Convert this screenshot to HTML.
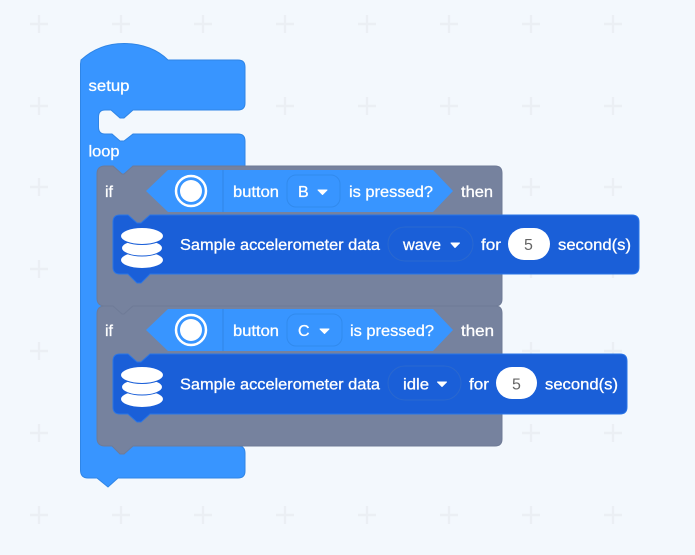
<!DOCTYPE html>
<html><head><meta charset="utf-8">
<style>
html,body{margin:0;padding:0;background:#f3f8fd;width:695px;height:555px;overflow:hidden}
svg{display:block;filter:blur(.35px)}
text{font-family:"Liberation Sans",sans-serif;font-size:16px;fill:#fff;stroke:#fff;stroke-width:.3}
</style></head>
<body>
<svg width="695" height="555" viewBox="0 0 695 555" xmlns="http://www.w3.org/2000/svg">
<rect width="695" height="555" fill="#f3f8fd"/>
<defs>
<g id="p"><path d="M-9 0H9M0 -9V9" stroke="#ebeff4" stroke-width="2.400" fill="none"/></g>
<g id="db" stroke="#1a5fd8" stroke-width="1" fill="#fff">
<ellipse cx="142" cy="260" rx="21.500" ry="8.500"/>
<ellipse cx="142" cy="248" rx="20.500" ry="8"/>
<ellipse cx="142" cy="236" rx="21.500" ry="8.500"/>
</g>
<path id="gray" d="M97 174Q97 166 105 166H113L122 174H124L133 166H495Q502 166 502 173V299Q502 306 495 306H133L124 314H120L112 306H105Q97 306 97 298Z" fill="#76829e" stroke="#6f7b97" stroke-width="1"/>
<path id="hex" d="M146 191L168 170H433L453 191L433 212H168Z" fill="#3895ff"/>
</defs>
<g>
<use href="#p" x="39" y="24"/><use href="#p" x="121" y="24"/><use href="#p" x="203" y="24"/><use href="#p" x="285" y="24"/><use href="#p" x="367" y="24"/><use href="#p" x="449" y="24"/><use href="#p" x="531" y="24"/><use href="#p" x="613" y="24"/>
<use href="#p" x="39" y="106"/><use href="#p" x="285" y="106"/><use href="#p" x="367" y="106"/><use href="#p" x="449" y="106"/><use href="#p" x="531" y="106"/><use href="#p" x="613" y="106"/>
<use href="#p" x="39" y="187"/><use href="#p" x="531" y="187"/><use href="#p" x="613" y="187"/>
<use href="#p" x="39" y="269"/><use href="#p" x="531" y="269"/><use href="#p" x="613" y="269"/>
<use href="#p" x="39" y="351"/><use href="#p" x="531" y="351"/><use href="#p" x="613" y="351"/>
<use href="#p" x="39" y="433"/><use href="#p" x="531" y="433"/><use href="#p" x="613" y="433"/>
<use href="#p" x="39" y="515"/><use href="#p" x="121" y="515"/><use href="#p" x="203" y="515"/><use href="#p" x="285" y="515"/><use href="#p" x="367" y="515"/><use href="#p" x="449" y="515"/><use href="#p" x="531" y="515"/><use href="#p" x="613" y="515"/>
<use href="#p" x="285" y="433"/><use href="#p" x="367" y="433"/><use href="#p" x="449" y="433"/>
</g>

<!-- outer blue hat block -->
<path d="M81 60C92 50 106 43.500 124 43.500C143 43.500 158 50 168 60H238Q245 60 245 67V103Q245 110 238 110H133L124 118H120L111 110H105Q98.500 110 98.500 117V127Q98.500 134 105 134H112L120 141H124L133 134H238Q245 134 245 141V446H238Q245 446 245 453V471Q245 478 238 478H118L108 487L97 478H88Q80.500 478 80.500 470V64Z" fill="#3895ff" stroke="#2f85e6" stroke-width="1"/>

<!-- gray if blocks -->
<use href="#gray"/>
<use href="#gray" y="140"/>

<!-- hexes -->
<use href="#hex"/>
<use href="#hex" y="139"/>

<!-- dark blocks -->
<path d="M113 222Q113 215 120 215H128L137 223H141L150 215H632Q639 215 639 222V267Q639 274 632 274H150L141 283H137L128 274H120Q113 274 113 267Z" fill="#1a5fd8" stroke="#2a75e6" stroke-width="1"/>
<path d="M113 361Q113 354 120 354H128L137 362H141L150 354H620Q627 354 627 361V407Q627 414 620 414H150L141 422H137L128 414H120Q113 414 113 407Z" fill="#1a5fd8" stroke="#2a75e6" stroke-width="1"/>

<use href="#db"/>
<use href="#db" y="139"/>

<!-- first row -->
<circle cx="191" cy="191" r="15" fill="none" stroke="#fff" stroke-width="2.500"/>
<circle cx="191" cy="191" r="11" fill="#fff"/>
<path d="M223 170V212" stroke="#2f85e6" stroke-width="1"/>
<rect x="287" y="175" width="53" height="32" rx="9" fill="#3895ff" stroke="#318aed"/>
<path d="M318 190H327L322.500 194.500Z" fill="#fff" stroke="#fff" stroke-linejoin="round"/>

<text x="88.500" y="91" textLength="41" lengthAdjust="spacingAndGlyphs">setup</text>
<text x="88.500" y="156.500" textLength="31" lengthAdjust="spacingAndGlyphs">loop</text>
<text x="105" y="197">if</text>
<text x="233" y="197" textLength="46" lengthAdjust="spacingAndGlyphs">button</text>
<text x="298" y="197">B</text>
<text x="349" y="197" textLength="84" lengthAdjust="spacingAndGlyphs">is pressed?</text>
<text x="461" y="197" textLength="32" lengthAdjust="spacingAndGlyphs">then</text>

<text x="180" y="250" textLength="200" lengthAdjust="spacingAndGlyphs">Sample accelerometer data</text>
<rect x="388" y="227" width="85" height="34" rx="17" fill="#1a5fd8" stroke="#2a68cf"/>
<text x="403" y="250" textLength="38" lengthAdjust="spacingAndGlyphs">wave</text>
<path d="M451 243H459.500L455 247.500Z" fill="#fff" stroke="#fff" stroke-linejoin="round"/>
<text x="481" y="250" textLength="20" lengthAdjust="spacingAndGlyphs">for</text>
<rect x="508" y="228" width="42" height="32" rx="16" fill="#fff"/>
<text x="524" y="250" style="fill:#666;stroke:none">5</text>
<text x="558" y="250" textLength="73" lengthAdjust="spacingAndGlyphs">second(s)</text>

<!-- second row -->
<circle cx="191" cy="330" r="15" fill="none" stroke="#fff" stroke-width="2.500"/>
<circle cx="191" cy="330" r="11" fill="#fff"/>
<path d="M223 309V351" stroke="#2f85e6" stroke-width="1"/>
<rect x="287" y="314" width="55" height="32" rx="9" fill="#3895ff" stroke="#318aed"/>
<path d="M320 329H329L324.500 333.500Z" fill="#fff" stroke="#fff" stroke-linejoin="round"/>
<text x="105" y="336">if</text>
<text x="233" y="336" textLength="46" lengthAdjust="spacingAndGlyphs">button</text>
<text x="298" y="336">C</text>
<text x="350" y="336" textLength="84" lengthAdjust="spacingAndGlyphs">is pressed?</text>
<text x="461" y="336" textLength="33" lengthAdjust="spacingAndGlyphs">then</text>

<text x="180" y="389.500" textLength="200" lengthAdjust="spacingAndGlyphs">Sample accelerometer data</text>
<rect x="388" y="366" width="73" height="34" rx="17" fill="#1a5fd8" stroke="#2a68cf"/>
<text x="403" y="389.500" textLength="26" lengthAdjust="spacingAndGlyphs">idle</text>
<path d="M437.500 382H446.500L442 386.500Z" fill="#fff" stroke="#fff" stroke-linejoin="round"/>
<text x="469" y="389.500" textLength="20" lengthAdjust="spacingAndGlyphs">for</text>
<rect x="496" y="367" width="41" height="32" rx="16" fill="#fff"/>
<text x="512" y="389.500" style="fill:#666;stroke:none">5</text>
<text x="545" y="389.500" textLength="73" lengthAdjust="spacingAndGlyphs">second(s)</text>
</svg>
</body></html>
